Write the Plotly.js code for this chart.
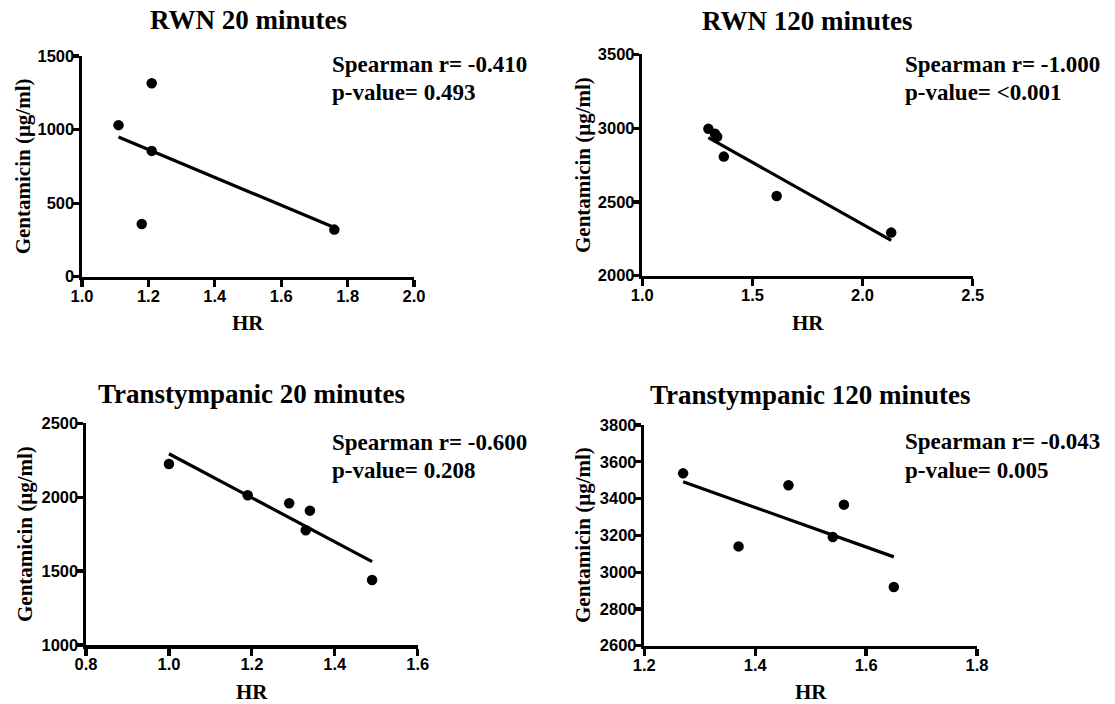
<!DOCTYPE html>
<html>
<head>
<meta charset="utf-8">
<script src="https://cdn.plot.ly/plotly-3.0.1.min.js"></script>
<style>html,body{margin:0;padding:0;background:#fff;}#chart{width:1115px;height:704px;}</style>
</head>
<body>
<div id="chart"></div>
<script>
// ---- Data ----
const rwn20HR = [1.11, 1.21, 1.21, 1.18, 1.76];
const rwn20Gent = [1030, 1315, 855, 358, 320];
const rwn120HR = [1.30, 1.33, 1.34, 1.37, 1.61, 2.13];
const rwn120Gent = [2995, 2962, 2942, 2807, 2540, 2292];
const tt20HR = [1.00, 1.19, 1.29, 1.34, 1.33, 1.49];
const tt20Gent = [2225, 2013, 1959, 1909, 1776, 1440];
const tt120HR = [1.27, 1.37, 1.46, 1.56, 1.54, 1.65];
const tt120Gent = [3537, 3140, 3472, 3367, 3191, 2919];

const panelTitles = ["RWN 20 minutes", "RWN 120 minutes", "Transtympanic 20 minutes", "Transtympanic 120 minutes"];
const spearmanR = ["-0.410", "-1.000", "-0.600", "-0.043"];
const pValues = ["0.493", "&lt;0.001", "0.208", "0.005"];
const xAxisTitle = "HR";
const yAxisTitle = "Gentamicin (μg/ml)";

const x1Ticks = [1.0, 1.2, 1.4, 1.6, 1.8, 2.0];
const y1Ticks = [0, 500, 1000, 1500];
const x2Ticks = [1.0, 1.5, 2.0, 2.5];
const y2Ticks = [2000, 2500, 3000, 3500];
const x3Ticks = [0.8, 1.0, 1.2, 1.4, 1.6];
const y3Ticks = [1000, 1500, 2000, 2500];
const x4Ticks = [1.2, 1.4, 1.6, 1.8];
const y4Ticks = [2600, 2800, 3000, 3200, 3400, 3600, 3800];

// ---- Layout geometry (pixels) ----
const W = 1115, H = 704;
const px = v => v / W;
const py = v => 1 - v / H;
const xdom = (a, b) => [a / W, b / W];
const ydom = (top, bottom) => [1 - bottom / H, 1 - top / H];

const panels = [
  {hr: rwn20HR, g: rwn20Gent, xt: x1Ticks, yt: y1Ticks, xd: xdom(82, 414), yd: ydom(56, 276.7),
   title: [248, 20], ytitle: [23, 166.3], xtitle: [248, 323.3], stat: [330, 64, 92.7]},
  {hr: rwn120HR, g: rwn120Gent, xt: x2Ticks, yt: y2Ticks, xd: xdom(642.3, 972.7), yd: ydom(54.3, 275.7),
   title: [807.5, 21], ytitle: [583, 165], xtitle: [807.5, 323], stat: [902.7, 64, 92.3]},
  {hr: tt20HR, g: tt20Gent, xt: x3Ticks, yt: y3Ticks, xd: xdom(86, 417.7), yd: ydom(423.3, 645),
   title: [251.8, 393.5], ytitle: [25, 534], xtitle: [251.8, 691.7], stat: [330, 442, 470.5]},
  {hr: tt120HR, g: tt120Gent, xt: x4Ticks, yt: y4Ticks, xd: xdom(644.3, 977), yd: ydom(425, 645.7),
   title: [810.7, 395], ytitle: [583, 535], xtitle: [810.7, 691.7], stat: [902.7, 441.7, 470]}
];

function linFit(x, y) {
  const n = x.length;
  const mx = x.reduce((a, b) => a + b, 0) / n;
  const my = y.reduce((a, b) => a + b, 0) / n;
  let sxy = 0, sxx = 0;
  for (let i = 0; i < n; i++) { sxy += (x[i] - mx) * (y[i] - my); sxx += (x[i] - mx) ** 2; }
  const b = sxy / sxx, a = my - b * mx;
  const x0 = Math.min(...x), x1 = Math.max(...x);
  return {x: [x0, x1], y: [a + b * x0, a + b * x1]};
}

const serif = 'Liberation Serif, Times New Roman, serif';
const sans = 'Liberation Sans, Arial, sans-serif';
const traces = [];
const layout = {
  width: W, height: H,
  margin: {l: 0, r: 0, t: 0, b: 0},
  paper_bgcolor: '#fff', plot_bgcolor: 'rgba(0,0,0,0)',
  showlegend: false,
  annotations: []
};

panels.forEach((p, i) => {
  const k = i === 0 ? '' : String(i + 1);
  const xa = 'x' + k, ya = 'y' + k;
  const fit = linFit(p.hr, p.g);
  traces.push({x: fit.x, y: fit.y, xaxis: xa, yaxis: ya, mode: 'lines',
    line: {color: '#000', width: 3.2}, hoverinfo: 'skip'});
  traces.push({x: p.hr, y: p.g, xaxis: xa, yaxis: ya, mode: 'markers', type: 'scatter',
    marker: {color: '#000', size: 10.5}});
  const common = {showline: true, linecolor: '#000', linewidth: 3.5, ticks: 'outside', ticklen: 7,
    tickwidth: 3.2, tickcolor: '#000', showgrid: false, zeroline: false, fixedrange: true,
    tickfont: {family: sans, size: 16.5, color: '#000', weight: 'bold'}};
  layout['xaxis' + k] = Object.assign({}, common, {domain: p.xd, anchor: ya, ticklabelstandoff: -5,
    range: [p.xt[0], p.xt[p.xt.length - 1]], tickmode: 'array', tickvals: p.xt,
    ticktext: p.xt.map(v => '<b>' + v.toFixed(1) + '</b>')});
  layout['yaxis' + k] = Object.assign({}, common, {domain: p.yd, anchor: xa, ticklabelstandoff: -6,
    range: [p.yt[0], p.yt[p.yt.length - 1]], tickmode: 'array', tickvals: p.yt,
    ticktext: p.yt.map(v => '<b>' + v + '</b>')});
  const ann = (text, x, y, size, extra) => layout.annotations.push(Object.assign({
    text: '<b>' + text + '</b>', xref: 'paper', yref: 'paper', x: px(x), y: py(y),
    showarrow: false, xanchor: 'center', yanchor: 'middle',
    font: {family: serif, size: size, color: '#000'}}, extra || {}));
  ann(panelTitles[i], p.title[0], p.title[1], 27);
  ann(yAxisTitle, p.ytitle[0], p.ytitle[1], 21, {textangle: -90});
  ann(xAxisTitle, p.xtitle[0], p.xtitle[1], 21);
  ann('Spearman r= ' + spearmanR[i], p.stat[0], p.stat[1], 23, {xanchor: 'left'});
  ann('p-value= ' + pValues[i], p.stat[0], p.stat[2], 23, {xanchor: 'left'});
});

Plotly.newPlot('chart', traces, layout, {displayModeBar: false, staticPlot: true});
</script>
</body>
</html>
